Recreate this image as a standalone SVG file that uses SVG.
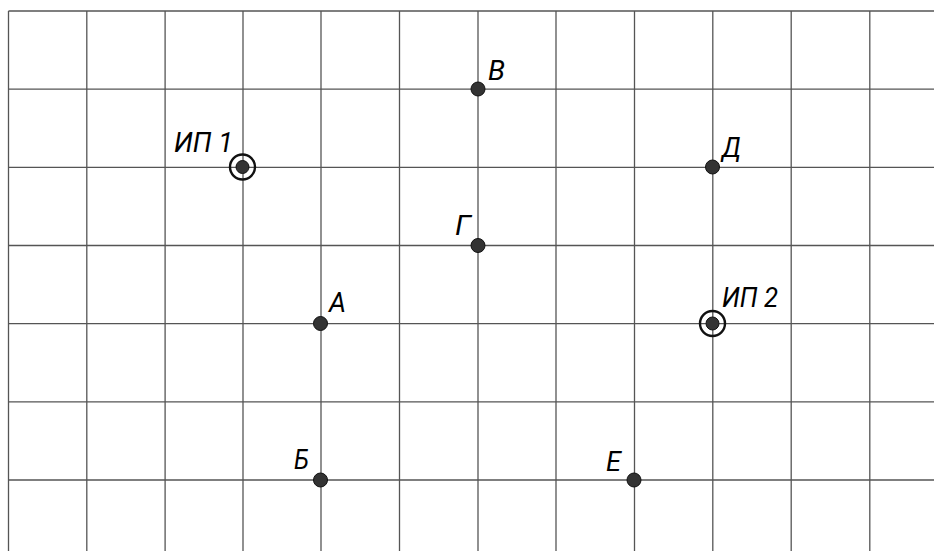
<svg xmlns="http://www.w3.org/2000/svg" width="934" height="551" viewBox="0 0 934 551">
<style>
.g line{stroke:#555;stroke-width:1.3}
.b{stroke:#333;stroke-width:1.6}
.dot{fill:#333;stroke:#111;stroke-width:1}
.ring{fill:none;stroke:#111;stroke-width:2.4}
.t{font-family:Roboto,"Liberation Sans",sans-serif;font-style:italic;font-weight:400;font-size:28px;fill:#000}
</style>
<rect width="934" height="551" fill="#fff"/>
<g id="grid" class="g">
<line x1="86.8" y1="11" x2="86.8" y2="551"/>
<line x1="165.1" y1="11" x2="165.1" y2="551"/>
<line x1="243" y1="11" x2="243" y2="551"/>
<line x1="321" y1="11" x2="321" y2="551"/>
<line x1="399.5" y1="11" x2="399.5" y2="551"/>
<line x1="478" y1="11" x2="478" y2="551"/>
<line x1="556" y1="11" x2="556" y2="551"/>
<line x1="634.5" y1="11" x2="634.5" y2="551"/>
<line x1="712.8" y1="11" x2="712.8" y2="551"/>
<line x1="791.2" y1="11" x2="791.2" y2="551"/>
<line x1="869.8" y1="11" x2="869.8" y2="551"/>
<line x1="8.5" y1="89.2" x2="934" y2="89.2"/>
<line x1="8.5" y1="167.3" x2="934" y2="167.3"/>
<line x1="8.5" y1="245.5" x2="934" y2="245.5"/>
<line x1="8.5" y1="323.6" x2="934" y2="323.6"/>
<line x1="8.5" y1="401.8" x2="934" y2="401.8"/>
<line x1="8.5" y1="480" x2="934" y2="480"/>
<line class="b" x1="8.5" y1="11" x2="8.5" y2="551"/>
<line class="b" x1="8.5" y1="11" x2="934" y2="11"/>
</g>
<g id="connectors"></g>
<g id="IP1"><circle class="ring" cx="242.5" cy="167" r="12.5"/><circle class="dot" cx="242.5" cy="167" r="6.5"/><text class="t" x="174" y="152" textLength="59" lengthAdjust="spacingAndGlyphs">ИП 1</text></g>
<g id="IP2"><circle class="ring" cx="712.5" cy="323.5" r="12.5"/><circle class="dot" cx="712.5" cy="323.5" r="6.5"/><text class="t" x="722" y="307" textLength="56" lengthAdjust="spacingAndGlyphs">ИП 2</text></g>
<g id="V"><circle class="dot" cx="478" cy="89" r="7"/><text class="t" x="488" y="80" textLength="17" lengthAdjust="spacingAndGlyphs">В</text></g>
<g id="D"><circle class="dot" cx="712.5" cy="167" r="7"/><text class="t" x="722" y="157" textLength="19" lengthAdjust="spacingAndGlyphs">Д</text></g>
<g id="G"><circle class="dot" cx="478" cy="245.5" r="7"/><text class="t" x="455" y="235" textLength="16" lengthAdjust="spacingAndGlyphs">Г</text></g>
<g id="A"><circle class="dot" cx="320.5" cy="323.5" r="7"/><text class="t" x="329" y="312" textLength="17" lengthAdjust="spacingAndGlyphs">А</text></g>
<g id="B"><circle class="dot" cx="320.5" cy="480" r="7"/><text class="t" x="294" y="469" textLength="15" lengthAdjust="spacingAndGlyphs">Б</text></g>
<g id="E"><circle class="dot" cx="634" cy="480" r="7"/><text class="t" x="606" y="471" textLength="15" lengthAdjust="spacingAndGlyphs">Е</text></g>
</svg>
